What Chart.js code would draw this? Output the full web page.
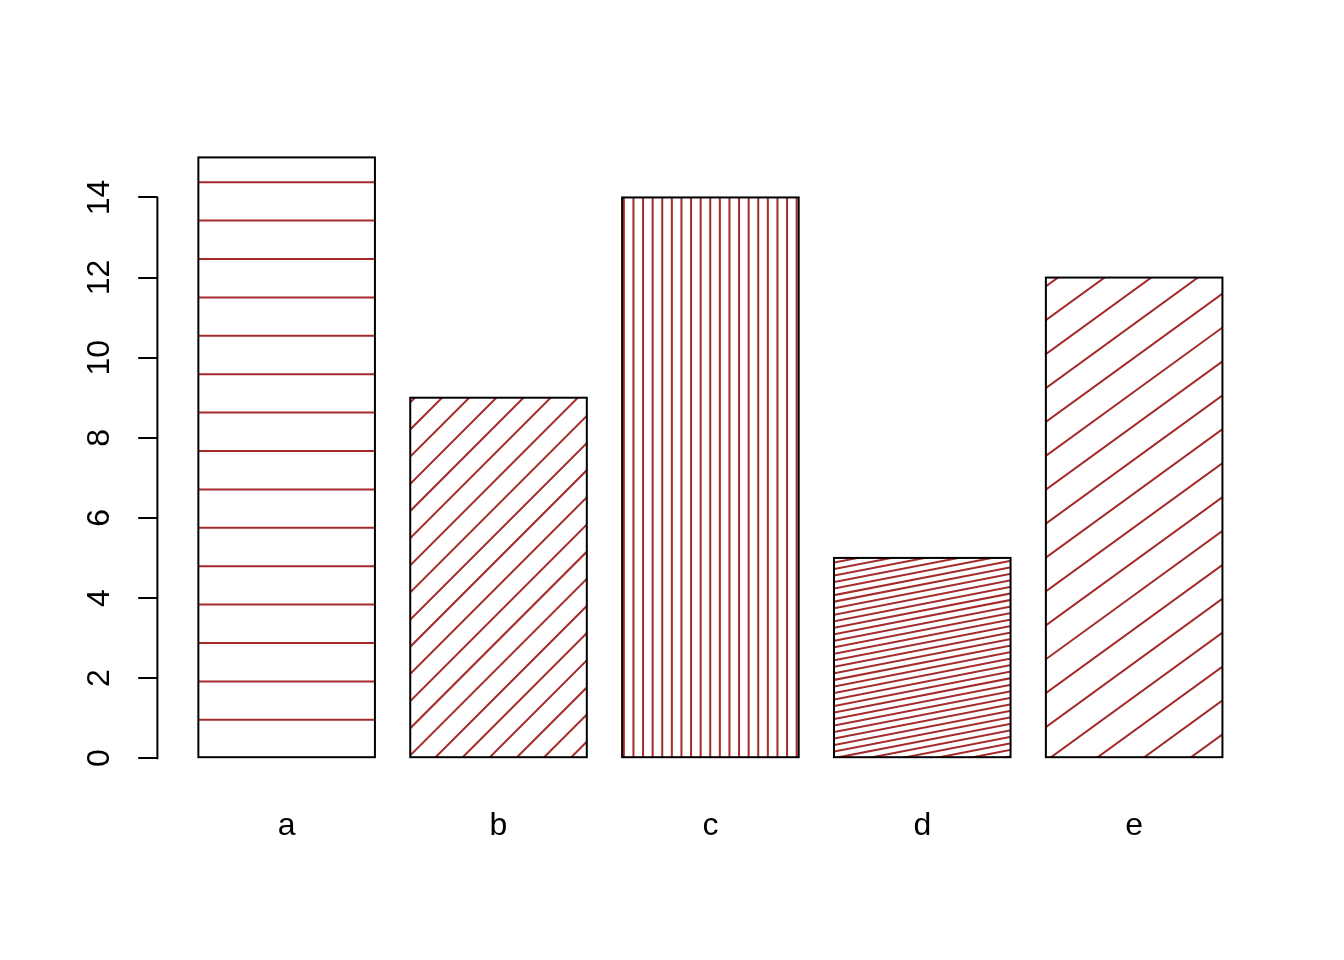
<!DOCTYPE html>
<html><head><meta charset="utf-8">
<script src="https://cdn.jsdelivr.net/npm/chart.js@4/dist/chart.umd.min.js"></script>
<style>html,body{margin:0;padding:0;background:#fff}#wrap{width:1344px;height:960px}</style>
</head><body><div id="wrap"><canvas id="c" width="1344" height="960"></canvas></div>
<script>
// ---- data ----
const categories = ['a', 'b', 'c', 'd', 'e'];
const values = [15, 9, 14, 5, 12];
const densities = [5, 10, 20, 30, 7];     // hatch lines per inch
const angles = [0, 45, 90, 11, 36];       // hatch angle in degrees
const yTickValues = [0, 2, 4, 6, 8, 10, 12, 14];

// ---- layout helpers (barplot geometry) ----
const barWidth = 1, barSpace = 0.2;
const centers = categories.map((_, i) => barSpace + barWidth / 2 + i * (barWidth + barSpace));
const xLo = barSpace, xHi = categories.length * (barWidth + barSpace);
const xExt = 0.04 * (xHi - xLo);
const yLo = -0.01 * Math.max(...values), yHi = Math.max(...values);

const DPI = 192;
const HATCH = '#A52A2A';
const FONT = { family: '"Liberation Sans", Arial, Helvetica, sans-serif', size: 32 };

const hatchPlugin = {
  id: 'hatch',
  afterDatasetsDraw(chart) {
    const ctx = chart.ctx;
    const xs = chart.scales.x, ys = chart.scales.y;
    const ox = xs.getPixelForValue(0), oy = ys.getPixelForValue(0);
    const meta = chart.getDatasetMeta(0);
    meta.data.forEach((bar, i) => {
      const p = bar.getProps(['x', 'y', 'base', 'width'], true);
      const x0 = p.x - p.width / 2, x1 = p.x + p.width / 2;
      const y0 = Math.min(p.y, p.base), y1 = Math.max(p.y, p.base);
      const th = angles[i] * Math.PI / 180;
      const nx = Math.sin(th), ny = Math.cos(th);
      const dx = Math.cos(th), dy = -Math.sin(th);
      const s = DPI / densities[i];
      const ts = [[x0, y0], [x1, y0], [x0, y1], [x1, y1]].map(([x, y]) => nx * (x - ox) + ny * (y - oy));
      const kmin = Math.ceil(Math.min(...ts) / s - 1e-9), kmax = Math.floor(Math.max(...ts) / s + 1e-9);
      ctx.save();
      ctx.beginPath(); ctx.rect(x0, y0, x1 - x0, y1 - y0); ctx.clip();
      ctx.strokeStyle = HATCH; ctx.lineWidth = 2;
      ctx.beginPath();
      for (let k = kmin; k <= kmax; k++) {
        const px = ox + nx * k * s, py = oy + ny * k * s;
        ctx.moveTo(px - dx * 4000, py - dy * 4000);
        ctx.lineTo(px + dx * 4000, py + dy * 4000);
      }
      ctx.stroke();
      ctx.restore();
      ctx.save();
      ctx.strokeStyle = '#000'; ctx.lineWidth = 2;
      ctx.strokeRect(x0, y0, x1 - x0, y1 - y0);
      ctx.restore();
    });
    // y axis line from first to last tick
    const ax = chart.chartArea.left;
    ctx.save();
    ctx.strokeStyle = '#000'; ctx.lineWidth = 2;
    ctx.beginPath();
    ctx.moveTo(ax, ys.getPixelForValue(yTickValues[0]) + 1);
    ctx.lineTo(ax, ys.getPixelForValue(yTickValues[yTickValues.length - 1]) - 1);
    ctx.stroke();
    ctx.restore();
  }
};

new Chart(document.getElementById('c'), {
  type: 'bar',
  data: {
    datasets: [{
      data: values.map((v, i) => ({ x: centers[i], y: v })),
      backgroundColor: 'rgba(0,0,0,0)',
      borderWidth: 0,
      categoryPercentage: 1,
      barPercentage: barWidth / (barWidth + barSpace)
    }]
  },
  options: {
    responsive: false,
    animation: false,
    devicePixelRatio: 1,
    layout: { padding: { top: 157.4, right: 80.6, bottom: 75.8, left: 0 } },
    plugins: { legend: { display: false }, tooltip: { enabled: false } },
    scales: {
      x: {
        type: 'linear',
        offset: false,
        min: xLo - xExt,
        max: xHi + xExt,
        afterBuildTicks: (scale) => { scale.ticks = centers.map(v => ({ value: v })); },
        afterFit: (scale) => { scale.height = 120; },
        grid: { display: false, drawTicks: false, offset: false },
        border: { display: false },
        ticks: {
          autoSkip: false,
          maxRotation: 0,
          padding: 43,
          color: '#000',
          font: FONT,
          callback: (v, i) => categories[i]
        }
      },
      y: {
        type: 'linear',
        min: yLo,
        max: yHi,
        afterBuildTicks: (scale) => { scale.ticks = yTickValues.map(v => ({ value: v })); },
        afterFit: (scale) => { scale.width = 157.4; },
        grid: { display: true, drawOnChartArea: false, drawTicks: true, tickLength: 19.2, lineWidth: 2, color: '#000' },
        border: { display: false },
        ticks: {
          autoSkip: false,
          minRotation: 90,
          maxRotation: 90,
          crossAlign: 'center',
          padding: 20.4,
          color: '#000',
          font: FONT
        }
      }
    }
  },
  plugins: [hatchPlugin]
});
</script>
</body></html>
